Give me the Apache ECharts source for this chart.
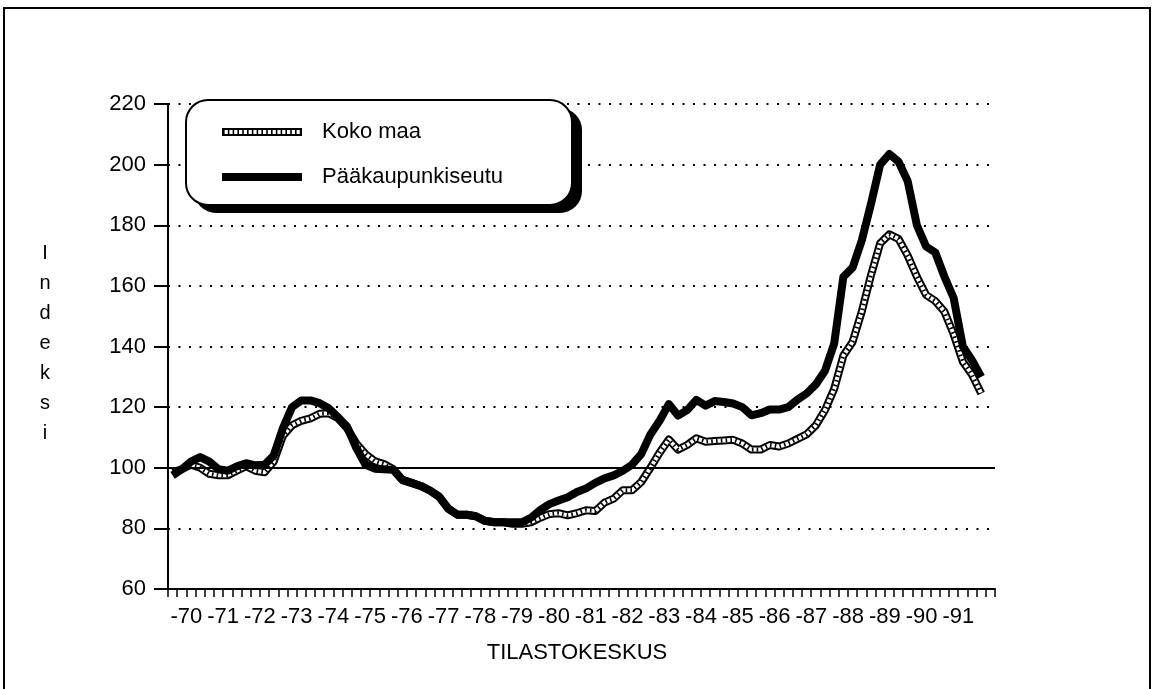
<!DOCTYPE html>
<html lang="fi">
<head>
<meta charset="UTF-8">
<title>Indeksi</title>
<script src="https://cdn.jsdelivr.net/npm/echarts@6/dist/echarts.min.js"></script>
<style>
    body { margin: 0; background: #fff; }
    #chart { width: 1153px; height: 689px; }
</style>
</head>
<body>
<div id="chart"></div>
<script>
// quarterly index values, 1970 Q1 ... 1992 Q1
const firstQuarter = 1970.125;
const yearLabels = ['-70', '-71', '-72', '-73', '-74', '-75', '-76', '-77', '-78', '-79', '-80',
    '-81', '-82', '-83', '-84', '-85', '-86', '-87', '-88', '-89', '-90', '-91'];

const paakaupunkiseutu = [
    97.5, 99.5, 102, 103.5, 102, 99.5, 99, 100.5, 101.5, 100.8, 101, 104,
    113, 120, 122.2, 122.2, 121.3, 119.6, 116.7, 113.5, 106.5, 101, 99.7, 99.5,
    99.3, 96, 95, 94, 92.5, 90.5, 86.5, 84.5, 84.5, 84, 82.5, 82,
    82, 82, 82, 83.5, 86, 88, 89.2, 90.3, 92, 93.2, 95, 96.5,
    97.5, 99, 101, 104.5, 111, 115.5, 121, 117.2, 119, 122.4, 120.5, 122,
    121.7, 121.2, 120, 117.3, 118, 119.2, 119.2, 120, 122.5, 124.5, 127.5, 132,
    141, 163, 166, 175, 187, 200, 203.5, 201, 194.5, 180, 173, 171,
    163, 156, 140, 135.5, 130
];

const kokoMaa = [
    98.5, 99.5, 101, 100, 98, 97.5, 97.5, 99, 100.5, 99, 98.5, 102,
    110.5, 114, 115.5, 116.3, 117.8, 118, 116.3, 113, 108, 104.5, 102.2, 101.2,
    99.6, 96, 95, 94, 92.5, 90.5, 86.5, 84.5, 84.5, 84, 82.5, 82,
    82, 81.5, 81.5, 82, 83.5, 84.7, 85, 84.3, 85, 86, 85.7, 88.5,
    89.8, 92.6, 92.6, 95.3, 100, 105, 109.3, 106, 107.5, 109.7, 108.6, 108.8,
    109, 109.2, 108, 106, 106, 107.5, 107, 108, 109.5, 111, 114, 119,
    126, 137, 141.5, 151.5, 163.5, 174, 177, 175.5, 170, 163, 157, 155,
    151.5, 144, 135, 130.7, 124.5
];

const toPoints = arr => arr.map((v, i) => [firstQuarter + i * 0.25, v]);

const font = "'Liberation Sans', Arial, Helvetica, sans-serif";
const chart = echarts.init(document.getElementById('chart'));

const option = {
    animation: false,
    backgroundColor: '#fff',
    grid: [
        { left: 168, top: 104, width: 827, height: 485 },
        { left: 168, top: 104, width: 808.7, height: 485 }
    ],
    xAxis: [
        {
            type: 'value', gridIndex: 0,
            min: 1970, max: 1992.5, interval: 0.25,
            axisLine: { show: true, lineStyle: { color: '#000', width: 2 } },
            axisTick: { show: true, length: 8, lineStyle: { color: '#000', width: 1.5 } },
            axisLabel: { show: false },
            splitLine: { show: false }
        },
        {
            type: 'category', gridIndex: 1, data: yearLabels, boundaryGap: true,
            axisLine: { show: false }, axisTick: { show: false },
            axisLabel: { interval: 0, margin: 17, color: '#000', fontSize: 22, fontFamily: font }
        }
    ],
    yAxis: [
        {
            type: 'value', gridIndex: 0, min: 60, max: 220, interval: 20,
            axisLine: { show: true, lineStyle: { color: '#000', width: 2 } },
            axisTick: { show: true, length: 14, lineStyle: { color: '#000', width: 2 } },
            axisLabel: { margin: 22, color: '#000', fontSize: 22, fontFamily: font },
            splitLine: { show: true, lineStyle: { color: '#000', width: 2, type: [2, 8.5] } }
        },
        { type: 'value', gridIndex: 1, show: false, min: 60, max: 220 }
    ],
    series: [
        {
            name: 'Koko maa', type: 'line', data: toPoints(kokoMaa),
            showSymbol: false, silent: true,
            lineStyle: { color: '#000', width: 8, join: 'round' },
            markLine: {
                silent: true, symbol: 'none', label: { show: false },
                lineStyle: { color: '#000', width: 2, type: 'solid' },
                data: [{ yAxis: 100 }]
            }
        },
        {
            type: 'line', data: toPoints(kokoMaa), showSymbol: false, silent: true,
            lineStyle: { color: '#fff', width: 4, join: 'round' }
        },
        {
            type: 'line', data: toPoints(kokoMaa), showSymbol: false, silent: true,
            lineStyle: { color: '#000', width: 4, type: [1.6, 3.2], cap: 'butt', join: 'round' }
        },
        {
            name: 'Pääkaupunkiseutu', type: 'line', data: toPoints(paakaupunkiseutu),
            showSymbol: false, silent: true,
            lineStyle: { color: '#000', width: 8, join: 'round' }
        }
    ],
    graphic: [
        // outer frame
        { type: 'rect', z: 1, shape: { x: 4, y: 8, width: 1146, height: 700 },
          style: { fill: 'none', stroke: '#000', lineWidth: 2 } },
        // vertical axis title, one letter per line
        { type: 'text', z: 1, x: 45, y: 238,
          style: { text: 'I\nn\nd\ne\nk\ns\ni', font: '20px ' + font, fill: '#000',
                   align: 'center', lineHeight: 30 } },
        { type: 'text', z: 1, x: 577, y: 653,
          style: { text: 'TILASTOKESKUS', font: '22px ' + font, fill: '#000',
                   align: 'center', verticalAlign: 'middle' } },
        // legend box
        { type: 'rect', z: 100, shape: { x: 194, y: 108, width: 388, height: 105, r: 22 },
          style: { fill: '#000' } },
        { type: 'rect', z: 101, shape: { x: 186, y: 100, width: 386, height: 105, r: 22 },
          style: { fill: '#fff', stroke: '#000', lineWidth: 2 } },
        { type: 'line', z: 102, shape: { x1: 222, y1: 132, x2: 302, y2: 132 },
          style: { stroke: '#000', lineWidth: 8 } },
        { type: 'line', z: 103, shape: { x1: 223, y1: 132, x2: 301, y2: 132 },
          style: { stroke: '#fff', lineWidth: 4 } },
        { type: 'line', z: 104, shape: { x1: 223, y1: 132, x2: 301, y2: 132 },
          style: { stroke: '#000', lineWidth: 4, lineDash: [1.6, 3.2] } },
        { type: 'text', z: 105, x: 322, y: 132,
          style: { text: 'Koko maa', font: '22px ' + font, fill: '#000', verticalAlign: 'middle' } },
        { type: 'line', z: 102, shape: { x1: 222, y1: 177, x2: 302, y2: 177 },
          style: { stroke: '#000', lineWidth: 8 } },
        { type: 'text', z: 105, x: 322, y: 177,
          style: { text: 'Pääkaupunkiseutu', font: '22px ' + font, fill: '#000', verticalAlign: 'middle' } }
    ]
};

chart.setOption(option);
</script>
</body>
</html>
